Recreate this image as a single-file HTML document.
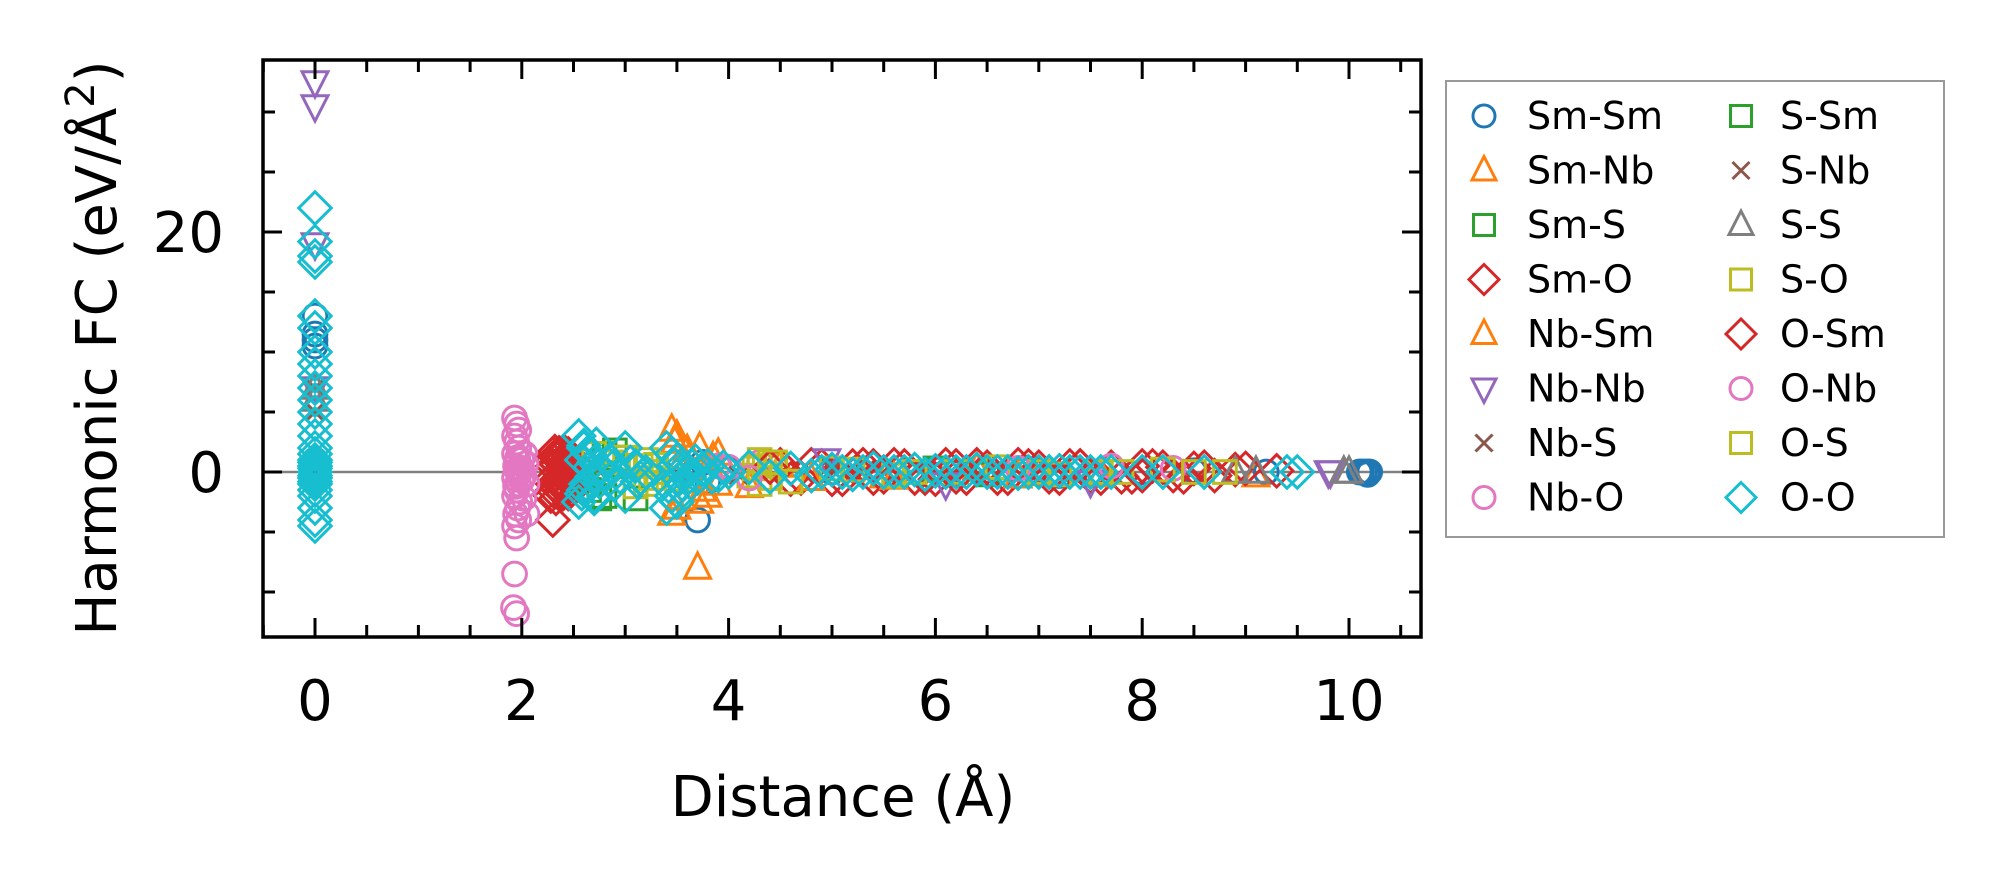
<!DOCTYPE html>
<html><head><meta charset="utf-8"><style>
html,body{margin:0;padding:0;background:#fff;}
svg{display:block;font-family:"DejaVu Sans","Liberation Sans",sans-serif;}
</style></head><body>
<svg id="chart" width="2004" height="883" viewBox="0 0 2004 883" xmlns="http://www.w3.org/2000/svg">
<g id="marks"></g>
<g id="axes"></g>
<g id="legend"></g>
</svg>
<script>
const seriesNames = ["Sm-Sm","Sm-Nb","Sm-S","Sm-O","Nb-Sm","Nb-Nb","Nb-S","Nb-O","S-Sm","S-Nb","S-S","S-O","O-Sm","O-Nb","O-S","O-O"];
const seriesColors = ["#1f77b4","#ff7f0e","#2ca02c","#d62728","#ff7f0e","#9467bd","#8c564b","#e377c2","#2ca02c","#8c564b","#7f7f7f","#bcbd22","#d62728","#e377c2","#bcbd22","#17becf"];
const seriesMarkers = ["o","^","s","D","^","v","x","o","s","x","^","s","D","o","s","D"];
const xTicks = [0,2,4,6,8,10];
const yTicks = [0,20];
const yMinorTicks = [-10,-5,5,10,15,25,30];

const smsmX = [0,0,0,0,0,0,0,3.7,3.75,3.8,4.0,5.0,6.0,7.2,8.0,8.5,9.2,10.1,10.12,10.15,10.18,10.2,10.18];
const smsmY = [13,11.5,11,10.5,1,0,-0.5,-4,0.8,-0.8,0.3,0,0.2,-0.3,0,0.1,0,0,0,0,0,0,-0.2];
const smnbX = [3.45,3.5,3.45,3.5,3.7,3.72,3.75,3.85,3.9,4.5,5.5,6.4,7.0,9.1,3.55,3.6,3.8];
const smnbY = [3.5,3,-3.5,-3,-8,2,-1.5,1.2,-1,0.5,-0.4,0.3,-0.2,-0.3,-2.2,1.8,-2];
const smsX = [2.6,2.8,2.8,3.0,6.0,6.5,2.75,2.9];
const smsY = [-0.5,1.5,-2,0.5,0.3,-0.2,-2.2,1.8];
const smoX = [2.3,2.3,2.3,2.3,2.3,2.3,2.3,2.35,2.4,2.45,2.5,2.45,2.4,2.35,2.28,2.32,2.34,2.36,2.38,2.42,2.44,2.46,2.48,2.32,2.36,2.4,2.44,2.48,2.33,2.37,2.41,2.45,4.5,4.7,4.9,5.1,5.3,5.5,5.7,5.9,6.1,6.3,6.5,6.7,6.9,7.1,7.3,7.5,7.7,7.9,8.1,8.3,8.5,8.7,8.9,4.6,5.2,5.8,6.4,7.0,7.6,8.2,4.8,5.0,5.4,5.6,6.0,6.2,6.6,6.8,7.2,7.4,7.8,8.0,8.4,8.6,9.0,9.3];
const smoY = [1.5,1,0.5,-0.5,-1,-1.5,-4,1.2,-1.3,0.8,-0.8,1.5,-1.8,0,-2,1.7,0.6,-0.6,1.4,0.2,-1.2,1.1,-0.3,-1.2,1.6,0.7,-0.5,0.4,-2.2,-1.6,1.7,-1.8,0.6,-0.5,0.5,-0.6,0.6,-0.4,0.5,-0.5,0.6,-0.5,0.4,-0.5,0.5,-0.4,0.5,-0.4,0.4,-0.4,0.5,-0.3,0.3,-0.3,0.2,-0.6,0.5,-0.5,0.6,0.4,-0.5,0.4,0.6,-0.6,-0.5,0.6,-0.6,0.5,-0.5,0.6,-0.5,0.5,-0.4,0.5,-0.4,0.4,0.3,0.1];
const nbsmX = [3.48,3.72,3.9,4.2,4.8,5.6,6.8,7.6];
const nbsmY = [2.5,-2.5,1.5,-1.2,-0.6,-0.5,-0.4,-0.3];
const nbnbX = [0,0,0,0,0,4.95,6.1,7.5,9.8,9.82];
const nbnbY = [32.5,30.5,19,7,0,1,-1,-0.8,0,0];
const nbsX = [0,0,3.5,5.0];
const nbsY = [7,5,0,0.2];
const nboX = [1.93,1.95,1.97,1.93,1.95,1.97,1.93,1.96,1.94,1.98,1.93,1.97,1.95,1.93,1.98,1.96,1.94,1.97,1.93,1.95,1.93,1.92,1.95,2.0,2.05,2.05,2.0,2.02,2.04,2.0,2.03,3.9,4.3,7.7,8.3,1.95,1.97];
const nboY = [4.5,4,3.5,3,2.5,2,1.5,1,0.5,0,-0.5,-1,-1.5,-2,-2.5,-3,-3.5,-4,-4.5,-5.5,-8.5,-11.3,-11.8,1,-1,-3.5,0.3,-0.3,0.7,-0.7,1.5,0.5,0.8,0.5,0.3,0.2,-0.2];
const ssmX = [2.65,2.9,3.1];
const ssmY = [-1.5,1.2,-2.2];
const snbX = [2.7,4.1];
const snbY = [0.5,-0.3];
const ssX = [0,0,8.9,9.1,9.95,10.0];
const ssY = [7,6,0,0,0,0];
const soX = [2.7,2.9,3.2,3.2,4.3,4.3,4.35,5.0,5.6,6.6,7.6,7.8,8.2,8.8,3.0,3.1,3.15,3.25,3.3,4.25,4.4,4.45,4.2,5.8,6.2,7.0,8.5];
const soY = [1.5,0.8,1,-1,1,-1,0.5,0.3,-0.3,0.4,0,0,0.2,0,1.2,-1.2,0.5,-0.5,0,0.3,-0.5,0.8,-0.3,0,0,0,0];
const osmX = [2.32,2.38,2.42,2.48,4.4,5.4,6.2,7.4,8.0];
const osmY = [1.3,-1.1,0.9,-1.5,0.4,0.5,-0.4,0.5,-0.3];
const onbX = [1.96,1.94,1.97,2.02,4.0,4.2,6.8];
const onbY = [1.2,-1.2,0.2,-2.2,0.4,-0.5,0.3];
const osX = [3.3,3.5,4.4,4.6,5.2,7.2];
const osY = [0.6,-0.6,0.8,-0.8,0.2,-0.2];
const ooX = [0,0,0,0,0,0,0,0,0,0,0,0,0,0,0,0,0,0,0,0,0,0,0,0,0,0,0,0,0,0,2.55,2.6,2.55,2.65,2.6,2.7,2.75,2.8,2.6,2.7,2.85,2.9,3.0,3.0,3.1,3.15,3.2,3.4,3.45,3.5,3.55,3.6,3.4,3.5,3.45,3.65,3.7,3.8,3.9,4.0,2.58,2.62,2.66,2.68,2.72,2.58,2.64,2.7,2.76,2.82,2.88,2.95,3.05,3.12,3.48,3.52,3.58,3.62,3.68,3.42,3.56,3.74,3.84,3.95,4.2,4.4,4.6,4.8,5.0,5.2,5.4,5.6,5.8,5.9,6.0,6.2,6.4,6.6,6.8,7.0,7.2,7.4,7.6,8.0,8.2,8.6,9.4,9.5,5.1,5.3,5.7,6.1,6.3,6.5,6.7,6.9,7.1,7.3,7.5,7.7,4.9,5.5,6.9,7.1];
const ooY = [22,18,17.5,13,12,10,9,8,7,6,5,4,3,2,1,0.5,0,-0.5,-1,-2,-3,-4,-4.5,19.2,0.8,0.3,-0.3,-0.8,1.5,-1.5,3,2.2,-2.5,1.5,-1.5,0.8,-0.8,0,2,-2,1,-1,2,-2,0.5,-0.5,0,2,-2,1,-1,0,-3,-2.5,1.5,0.5,-0.5,0.5,-0.3,0,1,-1,0.4,-0.4,2.3,-1.8,1.6,-2.2,0.2,-0.2,0.4,-0.4,0.8,-0.8,0.6,-0.6,0.4,-0.4,0.9,-1.2,-1.6,0.2,-0.4,0.4,0.4,-0.4,0.3,-0.3,0.2,-0.2,0.3,0,0.2,-0.2,0.1,0,0.2,0,-0.1,0,0.1,0,0,0,0,0,0,0,0,0,0,0,0,0,0,0,0,0,0,0,0,0,0,0];
const seriesX = [smsmX,smnbX,smsX,smoX,nbsmX,nbnbX,nbsX,nboX,ssmX,snbX,ssX,soX,osmX,onbX,osX,ooX];
const seriesY = [smsmY,smnbY,smsY,smoY,nbsmY,nbnbY,nbsY,nboY,ssmY,snbY,ssY,soY,osmY,onbY,osY,ooY];

const NS="http://www.w3.org/2000/svg";
const L=263,R=1421,T=60,B=637;
const sx=x=>315+103.4*x;
const sy=y=>472-12*y;
function el(tag,attrs,parent){const e=document.createElementNS(NS,tag);for(const k in attrs)e.setAttribute(k,attrs[k]);parent.appendChild(e);return e;}
function marker(g,m,cx,cy,c,k){
  k=k||1;
  const st={fill:"none",stroke:c,"stroke-width":3};
  let e;
  if(m==="o"){e=el("circle",Object.assign({cx:cx,cy:cy,r:11*k},st),g);}
  else if(m==="s"){e=el("rect",Object.assign({x:cx-10.5*k,y:cy-10.5*k,width:21*k,height:21*k},st),g);}
  else if(m==="D"){const d=15*k;e=el("polygon",Object.assign({points:`${cx},${cy-d} ${cx+d},${cy} ${cx},${cy+d} ${cx-d},${cy}`},st),g);}
  else if(m==="^"){e=el("polygon",Object.assign({points:`${cx},${cy-14*k} ${cx+12*k},${cy+9.5*k} ${cx-12*k},${cy+9.5*k}`},st),g);}
  else if(m==="v"){e=el("polygon",Object.assign({points:`${cx},${cy+14*k} ${cx+12*k},${cy-9.5*k} ${cx-12*k},${cy-9.5*k}`},st),g);}
  else {const d=8.5*k;e=el("path",Object.assign({d:`M${cx-d},${cy-d}L${cx+d},${cy+d}M${cx-d},${cy+d}L${cx+d},${cy-d}`},st),g);}
  return e;
}
const marks=document.getElementById("marks");
const clip=el("clipPath",{id:"pc"},document.getElementById("chart"));
el("rect",{x:L,y:T,width:R-L,height:B-T},clip);
marks.setAttribute("clip-path","url(#pc)");
const zl=el("line",{x1:L,x2:R,y1:sy(0),y2:sy(0),stroke:"#808080","stroke-width":2.5},marks);


seriesNames.forEach((n,i)=>{
  const g=el("g",{},marks);
  
  
  seriesX[i].forEach((x,j)=>{
    const p=marker(g,seriesMarkers[i],sx(x),sy(seriesY[i][j]),seriesColors[i],1.08);
    
    
  });
});
const axes=document.getElementById("axes");
const frame=el("rect",{x:L,y:T,width:R-L,height:B-T,fill:"none",stroke:"#000","stroke-width":3.5},axes);


for(let v=-0.5;v<=10.5;v+=0.5){
  const major=xTicks.includes(v);const len=major?19:12;const X=sx(v);
  el("line",{x1:X,x2:X,y1:B,y2:B-len,stroke:"#000","stroke-width":3},axes);
  el("line",{x1:X,x2:X,y1:T,y2:T+len,stroke:"#000","stroke-width":3},axes);
}
yTicks.concat(yMinorTicks).forEach(v=>{
  const len=yTicks.includes(v)?19:12;const Y=sy(v);
  el("line",{x1:L,x2:L+len,y1:Y,y2:Y,stroke:"#000","stroke-width":3},axes);
  el("line",{x1:R,x2:R-len,y1:Y,y2:Y,stroke:"#000","stroke-width":3},axes);
});
xTicks.forEach(v=>{
  const t=el("text",{x:sx(v),y:720,"font-size":56,"text-anchor":"middle"},axes);t.textContent=v;
  
  
});
yTicks.forEach(v=>{
  const t=el("text",{x:224,y:sy(v)+20,"font-size":56,"text-anchor":"end"},axes);t.textContent=v;
  
  
});
const xt=el("text",{x:843,y:816,"font-size":56,"text-anchor":"middle"},axes);xt.textContent="Distance (Å)";


const yt=el("text",{x:0,y:0,"font-size":56,"text-anchor":"middle",transform:"translate(116,348) rotate(-90)"},axes);
yt.innerHTML='Harmonic FC (eV/Å<tspan font-size="40" dy="-22">2</tspan><tspan dy="22">)</tspan>';


const lg=document.getElementById("legend");
const box=el("rect",{x:1446,y:81,width:498,height:456,fill:"#fff",stroke:"#999","stroke-width":2},lg);


seriesNames.forEach((n,i)=>{
  const col=Math.floor(i/8),row=i%8;
  const mx=col?1741:1484,tx=col?1780:1527,y=116+54.5*row;
  const g=el("g",{},lg);
  
  
  marker(g,seriesMarkers[i],mx,y,seriesColors[i],1);
  const t=el("text",{x:tx,y:y+13,"font-size":38},g);t.textContent=n;
});
</script>
</body></html>
